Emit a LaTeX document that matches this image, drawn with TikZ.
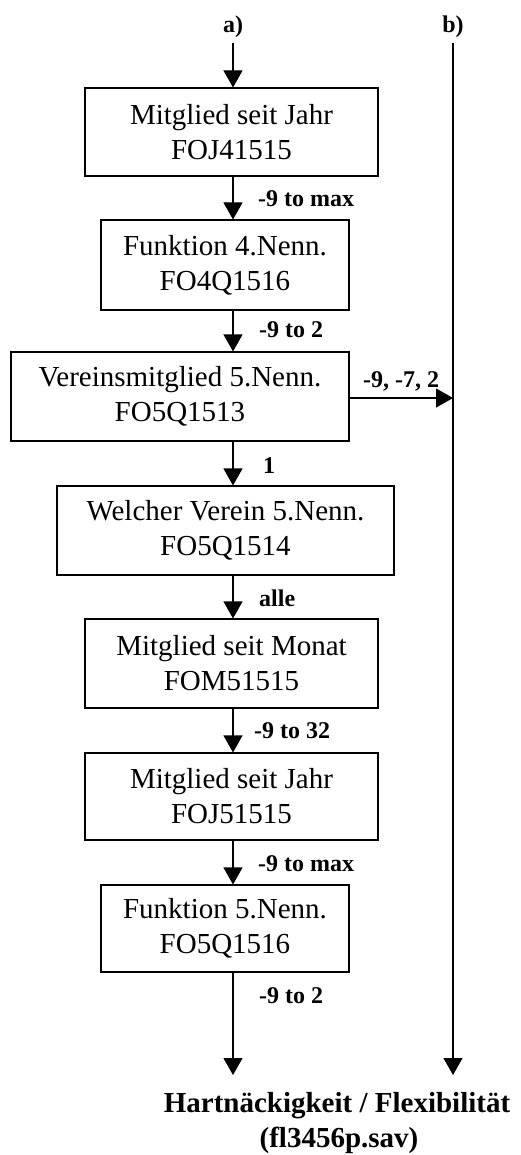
\documentclass[tikz,border=0pt]{standalone}
\usepackage{fontspec}
\setmainfont{Liberation Serif}
\usetikzlibrary{arrows.meta}
\begin{document}
\begin{tikzpicture}[x=1pt,y=-1pt,
  box/.style={draw,line width=1.1pt,inner sep=0pt,align=center,
    font=\fontsize{29}{35}\selectfont},
  lbl/.style={inner sep=0pt,anchor=base west,font=\fontsize{24}{28}\selectfont\bfseries},
  conn/.style={line width=1.1pt,-{Triangle[length=17pt,width=19pt]}},
  ttl/.style={inner sep=0pt,anchor=base,font=\fontsize{29}{35}\selectfont\bfseries},
  hdr/.style={inner sep=0pt,anchor=base,font=\fontsize{24}{28}\selectfont\bfseries}]
\useasboundingbox (0,0) rectangle (520,1155);
\coordinate (ax) at (233,0);
\coordinate (bx) at (453,0);
\node[hdr] (la) at (233,33) {a)};
\node[hdr] (lb) at (453,33) {b)};
\coordinate (atop) at (233,43);
\coordinate (btop) at (453,43);
\coordinate (aend) at (233,1075);
\coordinate (bend) at (453,1075);
\node[box,minimum width=293pt,minimum height=88pt] (b1) at (231.5,132) {Mitglied seit Jahr\\FOJ41515};
\node[box,minimum width=248pt,minimum height=90pt] (b2) at (225,265) {Funktion 4.Nenn.\\FO4Q1516};
\node[box,minimum width=338pt,minimum height=89pt] (b3) at (180,396.5) {Vereinsmitglied 5.Nenn.\\FO5Q1513};
\node[box,minimum width=337pt,minimum height=89pt] (b4) at (225.5,530.5) {Welcher Verein 5.Nenn.\\FO5Q1514};
\node[box,minimum width=293pt,minimum height=89pt] (b5) at (231.5,663.5) {Mitglied seit Monat\\FOM51515};
\node[box,minimum width=293pt,minimum height=87pt] (b6) at (231.5,796.5) {Mitglied seit Jahr\\FOJ51515};
\node[box,minimum width=248pt,minimum height=87pt] (b7) at (225,928.5) {Funktion 5.Nenn.\\FO5Q1516};
\draw[conn] (atop) -- (b1.north -| ax);
\draw[conn] (b1.south -| ax) -- (b2.north -| ax);
\draw[conn] (b2.south -| ax) -- (b3.north -| ax);
\draw[conn] (b3.south -| ax) -- (b4.north -| ax);
\draw[conn] (b4.south -| ax) -- (b5.north -| ax);
\draw[conn] (b5.south -| ax) -- (b6.north -| ax);
\draw[conn] (b6.south -| ax) -- (b7.north -| ax);
\draw[conn] (b7.south -| ax) -- (aend);
\draw[conn] (b3.east |- 0,398) -- (bx |- 0,398);
\draw[conn] (btop) -- (bend);
\node[lbl] (l1) at (258,207) {-9 to max};
\node[lbl] (l2) at (259,337) {-9 to 2};
\node[lbl] (l3) at (263,473) {1};
\node[lbl] (l4) at (259,606) {alle};
\node[lbl] (l5) at (254,738) {-9 to 32};
\node[lbl] (l6) at (258,871) {-9 to max};
\node[lbl] (l7) at (259,1003) {-9 to 2};
\node[lbl] (l8) at (363,387) {-9, -7, 2};
\node[ttl] (t1) at (337,1112) {Hartnäckigkeit / Flexibilität};
\node[ttl] (t2) at (339,1147) {(fl3456p.sav)};
\end{tikzpicture}
\end{document}
